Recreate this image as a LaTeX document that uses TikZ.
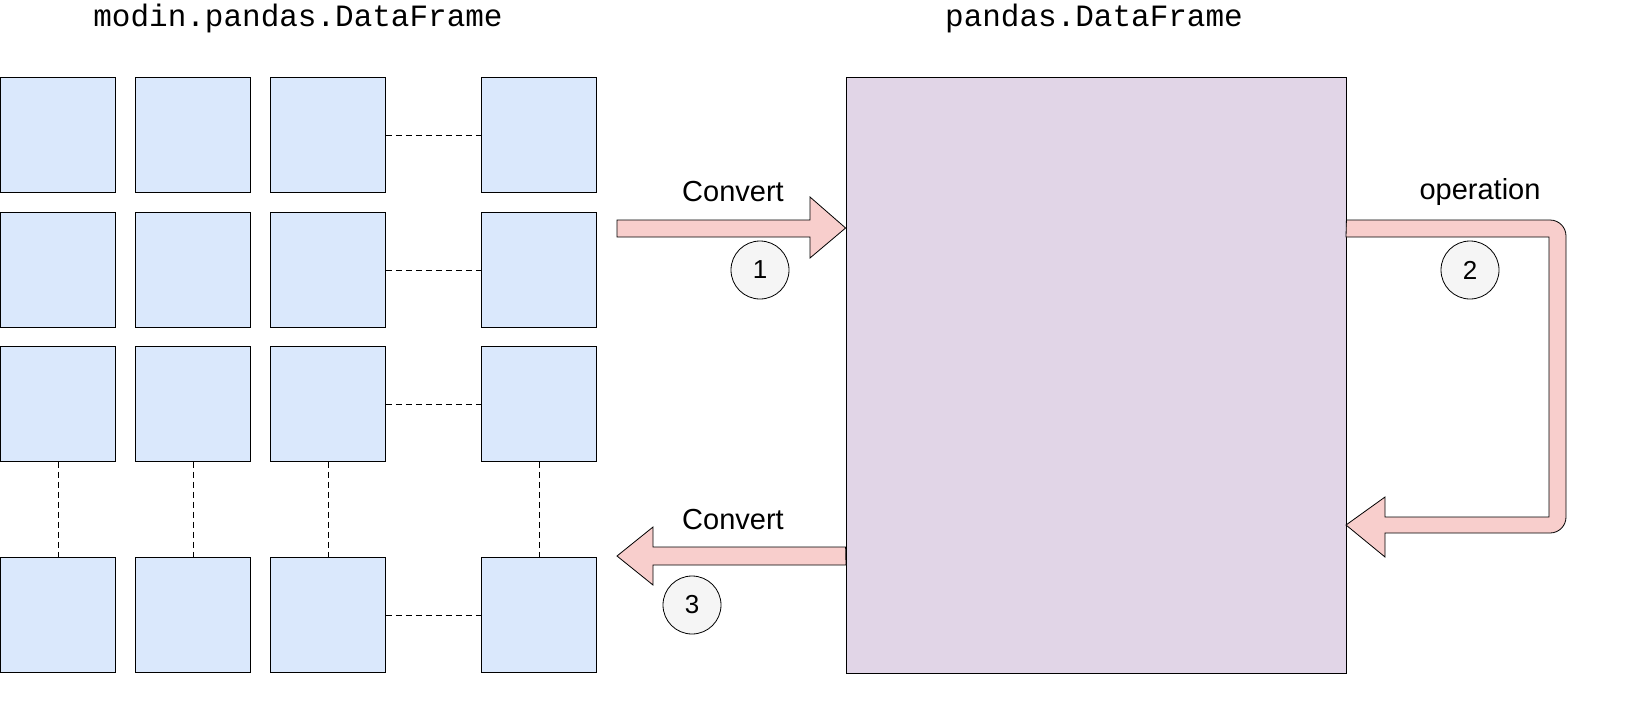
\documentclass[tikz,border=0pt]{standalone}
\usepackage{fontspec}
\setmainfont{Liberation Sans}
\newfontfamily\monofont{Liberation Mono}
\usetikzlibrary{positioning}
\definecolor{cellblue}{HTML}{DAE8FC}
\definecolor{framelila}{HTML}{E1D5E7}
\definecolor{arrowpink}{HTML}{F8CECC}
\definecolor{stepgray}{HTML}{F5F5F5}
\begin{document}
\begin{tikzpicture}[x=0.5pt,y=-0.5pt,
		cell/.style  = {draw, fill=cellblue, minimum width=57.5pt, minimum height=57.5pt, inner sep=0pt},
		frame/.style = {draw, fill=framelila, minimum width=250pt, minimum height=298pt, inner sep=0pt},
		stepno/.style = {draw, circle, fill=stepgray, minimum size=29pt, inner sep=0pt, font=\fontsize{13}{15}\selectfont},
		lbl/.style   = {font=\fontsize{14.5}{17}\selectfont},
		title/.style = {font=\monofont\fontsize{15.5}{18}\selectfont},
		fat/.style   = {draw, fill=arrowpink, line join=miter},
		dots/.style  = {dashed, dash pattern=on 3pt off 2pt}]
	
	% grid of partitions
	\foreach \col/\x in {1/58,2/193,3/328,4/539}
	\foreach \row/\y in {1/135,2/270,3/404,4/615}
	\node[cell] (p\row\col) at (\x,\y) {};
	
	\foreach \row in {1,...,4}
	\draw[dots] (p\row3) -- (p\row4);
	\foreach \col in {1,...,4}
	\draw[dots] (p3\col) -- (p4\col);
	
	% pandas frame
	\node[frame] (pdf) at (1096,375) {};
	
	\node[title] (t1) at (298,18) {modin.pandas.DataFrame};
	\node[title] (t2) at (1094,18) {pandas.DataFrame};
	
	% block arrows
	\draw[fat] (617,220) -- (810,220) -- (810,197) -- (pdf.west |- 0,228) -- (810,258) -- (810,237) -- (617,237) -- cycle;
	\draw[fat] (pdf.west |- 0,547) -- (653,547) -- (653,527) -- (617,556) -- (653,585) -- (653,565) -- (846,565) -- cycle;
	\draw[fat] (pdf.east |- 0,220) -- (1550,220) to[out=0,in=90] (1566,236) -- (1566,517) to[out=-90,in=0] (1550,533) -- (1385,533) -- (1385,557) -- (1346,525) -- (1385,497) -- (1385,517) -- (1549,517) -- (1549,237) -- (1346,237) -- cycle;
	
	\node[lbl] (l1) at (733,192) {Convert};
	\node[lbl] (l2) at (1480,192) {operation};
	\node[lbl] (l3) at (733,520) {Convert};
	
	\node[stepno] (s1) at (760,270) {1};
	\node[stepno] (s2) at (1470,270) {2};
	\node[stepno] (s3) at (692,605) {3};
	
	\pgfresetboundingbox
	\useasboundingbox (0,0) rectangle (1632,702);
\end{tikzpicture}
\end{document}
